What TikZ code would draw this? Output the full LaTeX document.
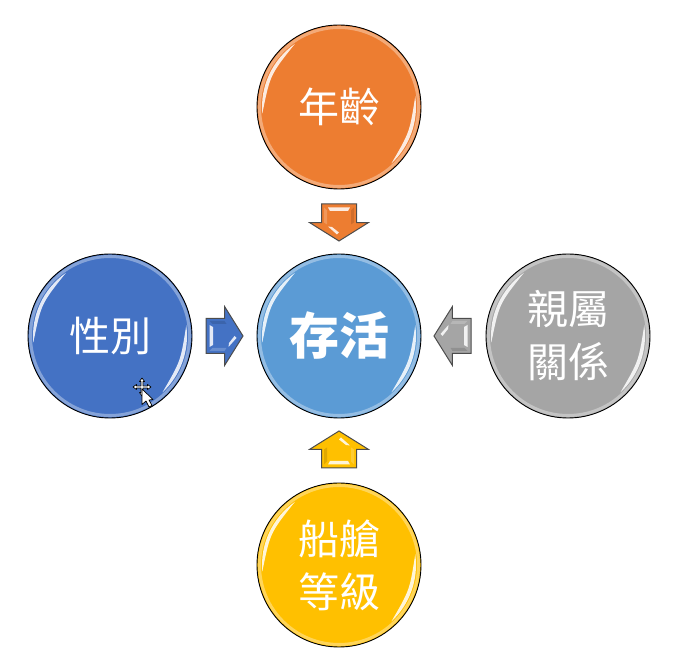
\documentclass[tikz,border=0pt]{standalone}
\usepackage{fontspec}
\newfontfamily\cjk{Noto Sans CJK TC}
\usetikzlibrary{shapes.arrows,calc}

\definecolor{agecol}{HTML}{ED7D31}
\definecolor{survivecol}{HTML}{5B9BD5}
\definecolor{gendercol}{HTML}{4472C4}
\definecolor{kincol}{HTML}{A5A5A5}
\definecolor{classcol}{HTML}{FFC000}

\newcommand{\circleglint}[1]{
	\draw [white, opacity=0.35, line width=3pt] (#1) circle [radius=79.5];
	\fill [glintwhite] ($(#1)+(125:77)$) arc [start angle=125, end angle=185, radius=77] .. controls ($(#1)+(155:76)$) .. ($(#1)+(125:77)$);
	\fill [glintwhite] ($(#1)+(-47:77)$) arc [start angle=-47, end angle=8, radius=77] .. controls ($(#1)+(-19.5:75)$) .. ($(#1)+(-47:77)$);
}
\newcommand{\arrowglint}[2]{
	\begin{scope}[shift={(#1.tip)}, rotate=#2, yshift=18.5pt]
		\fill [glintwhite] (-11,15) -- (11,15) -- (9,11.5) -- (-9,11.5) -- cycle;
		\fill [glintwhite] (-11,-4) -- (-7,-4.5) -- (0,-10) -- (-2,-12) -- cycle;
		\fill [white, opacity=0.2] (-15,15) -- (-12,12) -- (-12,-2) -- (-15,0) -- cycle;
		\fill [black, opacity=0.12] (15,15) -- (12,12) -- (12,-2) -- (15,0) -- cycle;
	\end{scope}
}

\begin{document}
\begin{tikzpicture}[x=1pt,y=1pt]
		\tikzstyle{factor}=[circle,draw=black,line width=0.9pt,minimum size=164pt,inner sep=0pt,text=white,align=center,font=\cjk\fontsize{41}{53}\selectfont]
		\tikzstyle{blockarrow}=[single arrow,draw=black!70,line width=1pt,outer sep=0pt,minimum height=37pt,single arrow head extend=12pt,single arrow tip angle=116,single arrow head indent=0pt,anchor=tip]
		\tikzstyle{sideways}=[inner xsep=0pt,inner ysep=17pt]
		\tikzstyle{upright}=[inner xsep=17pt,inner ysep=0pt]
		\tikzstyle{glintwhite}=[white,opacity=0.85]
		\tikzstyle{pointer}=[fill=white,draw=black,line width=0.7pt,line join=round]

		\useasboundingbox (0,0) rectangle (673,659);

		\node [factor, fill=agecol] (age) at (339,552) {年齡};
		\node [factor, fill=survivecol, font=\cjk\bfseries\fontsize{50}{53}\selectfont] (survive) at (339,323) {存活};
		\node [factor, fill=gendercol] (gender) at (110,323) {性別};
		\node [factor, fill=kincol] (kin) at (568,323) {親屬\\關係};
		\node [factor, fill=classcol] (cabin) at (339,94) {船艙\\等級};

		\node [blockarrow, upright, fill=agecol, shape border rotate=270] (agearrow) at (339,418) {};
		\node [blockarrow, sideways, fill=gendercol, shape border rotate=0] (genderarrow) at (243,323) {};
		\node [blockarrow, sideways, fill=kincol, shape border rotate=180] (kinarrow) at (434,323) {};
		\node [blockarrow, upright, fill=classcol, shape border rotate=90] (cabinarrow) at (339,228) {};

		\circleglint{age}
		\circleglint{survive}
		\circleglint{gender}
		\circleglint{kin}
		\circleglint{cabin}

		\arrowglint{agearrow}{0}
		\arrowglint{genderarrow}{90}
		\arrowglint{kinarrow}{-90}
		\arrowglint{cabinarrow}{180}

		\draw [pointer] (142,281) -- (144.5,277.5) -- (143,277.5) -- (143,273) -- (147.5,273) -- (147.5,274.5) -- (151,272) -- (147.5,269.5) -- (147.5,271) -- (143,271) -- (143,266.5) -- (144.5,266.5) -- (142,263) -- (139.5,266.5) -- (141,266.5) -- (141,271) -- (136.5,271) -- (136.5,269.5) -- (133,272) -- (136.5,274.5) -- (136.5,273) -- (141,273) -- (141,277.5) -- (139.5,277.5) -- cycle;
		\draw [pointer] (142,270) -- (142,254.5) -- (146,258) -- (149,252) -- (152,253.5) -- (149,259) -- (153,259.5) -- cycle;
\end{tikzpicture}
\end{document}
